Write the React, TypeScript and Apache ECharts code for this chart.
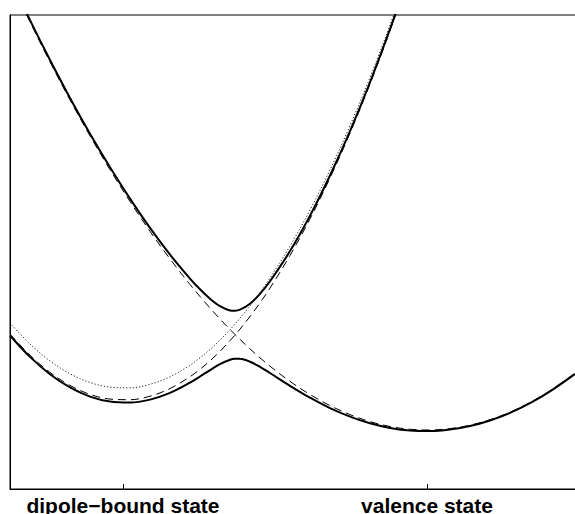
import React, { useEffect, useRef } from "react";
import * as echarts from "echarts";

// Reaction coordinate samples (x) and energies (y)
const xs = [0, 20, 40, 60, 80, 100, 120, 140, 160, 180, 190, 200, 210, 220, 225, 230, 240, 250, 260, 280, 300, 320, 340, 360, 380, 400, 420, 440, 460, 480, 500, 520, 540, 565];

// diabatic dipole-bound curve (dashed)
const dipoleDiabatic = [160.1, 138.8, 121.6, 108.6, 99.6, 94.9, 94.3, 97.8, 105.4, 117.3, 124.7, 133.2, 142.7, 153.3, 159.0, 164.9, 177.5, 191.2, 205.9, 238.5, 275.1, 316.0, 360.9, 410.0, 463.3, 520.7];

// diabatic valence curve (dashed)
const valenceDiabatic = [514.4, 472.2, 432.1, 394.1, 358.1, 324.3, 292.5, 262.7, 235.1, 209.5, 197.5, 186.0, 175.0, 164.5, 159.5, 154.6, 145.1, 136.2, 127.8, 112.6, 99.5, 88.4, 79.4, 72.4, 67.5, 64.7, 64.0, 65.4, 68.8, 74.3, 81.8, 91.5, 103.2, 120.7];

// neutral curve (dotted)
const neutralCurve = [171.0, 150.0, 133.1, 120.3, 111.5, 106.9, 106.2, 109.7, 117.2, 128.8, 136.2, 144.5, 153.9, 164.3, 169.9, 175.7, 188.1, 201.5, 216.0, 248.0, 284.0, 324.1, 368.3, 416.5, 468.9, 525.3];

// adiabatic curves (solid)
const lowerAdiabatic = [158.5, 137.1, 119.8, 106.6, 97.4, 92.4, 91.4, 94.4, 101.1, 111.4, 117.5, 123.9, 129.9, 134.3, 135.3, 135.2, 132.3, 127.2, 121.0, 108.2, 96.3, 85.9, 77.4, 70.7, 66.1, 63.4, 62.9, 64.4, 67.9, 73.5, 81.1, 90.8, 102.6, 120.1];
const upperAdiabatic = [516.0, 473.9, 434.0, 396.1, 360.3, 326.8, 295.4, 266.1, 239.4, 215.4, 204.7, 195.3, 187.8, 183.6, 183.3, 184.3, 190.3, 200.2, 212.7, 242.9, 278.3, 318.5, 362.9, 411.7, 464.8, 522.0];

const tickPositions = [113, 417];
const tickLabels = ["dipole\u2212bound state", "valence state"];

// lower end of the energy scale
const yMin = 5;
const yMax = 479;

function pairs(ys: number[]) {
  const out: number[][] = [];
  for (let i = 0; i < ys.length && i < xs.length; i++) {
    out.push([xs[i], ys[i]]);
  }
  return out;
}

export default function App() {
  const ref = useRef<HTMLDivElement>(null);

  useEffect(() => {
    document.body.style.margin = "0";
    if (!ref.current) return;
    const chart = echarts.init(ref.current, undefined, { renderer: "svg" });
    const solid = { color: "#000", width: 2, type: "solid" as const };
    const dashed = { color: "#000", width: 1, type: [8, 5] as any };
    const dotted = { color: "#222", width: 1, type: [1.2, 2] as any };
    const base = { type: "line" as const, showSymbol: false, symbol: "none", smooth: 0.35, clip: true, silent: true };
    chart.setOption({
      animation: false,
      grid: {
        left: 10,
        top: 15,
        right: -10,
        bottom: 25,
        outerBoundsMode: "none",
        containLabel: false,
        show: true,
        borderColor: "#000",
        borderWidth: 1,
        backgroundColor: "transparent",
      },
      xAxis: {
        type: "value",
        min: 0,
        max: 575,
        axisLine: { show: true, lineStyle: { color: "#000", width: 1 } },
        axisTick: {
          show: true,
          inside: true,
          length: 5,
          customValues: tickPositions,
          lineStyle: { color: "#000", width: 1 },
        },
        axisLabel: {
          show: true,
          customValues: tickPositions,
          formatter: (v: number) => {
            let best = 0;
            for (let i = 1; i < tickPositions.length; i++) {
              if (Math.abs(tickPositions[i] - v) < Math.abs(tickPositions[best] - v)) best = i;
            }
            return tickLabels[best];
          },
          fontFamily: "'Liberation Sans', Arial, Helvetica, sans-serif",
          fontWeight: "bold",
          fontSize: 21,
          color: "#000",
          margin: 6,
        },
        splitLine: { show: false },
      },
      yAxis: {
        type: "value",
        min: yMin,
        max: yMax,
        axisLine: { show: true, lineStyle: { color: "#000", width: 1 } },
        axisTick: { show: false },
        axisLabel: { show: false },
        splitLine: { show: false },
      },
      series: [
        { ...base, name: "dipole diabatic", data: pairs(dipoleDiabatic), lineStyle: dashed },
        { ...base, name: "valence diabatic", data: pairs(valenceDiabatic), lineStyle: dashed },
        { ...base, name: "neutral", data: pairs(neutralCurve), lineStyle: dotted },
        { ...base, name: "lower adiabatic", data: pairs(lowerAdiabatic), lineStyle: solid },
        { ...base, name: "upper adiabatic", data: pairs(upperAdiabatic), lineStyle: solid },
      ],
    });
    return () => chart.dispose();
  }, []);

  return (
    <div
      ref={ref}
      style={{ position: "absolute", left: 0, top: 0, width: 575, height: 514, background: "#fff" }}
    />
  );
}
